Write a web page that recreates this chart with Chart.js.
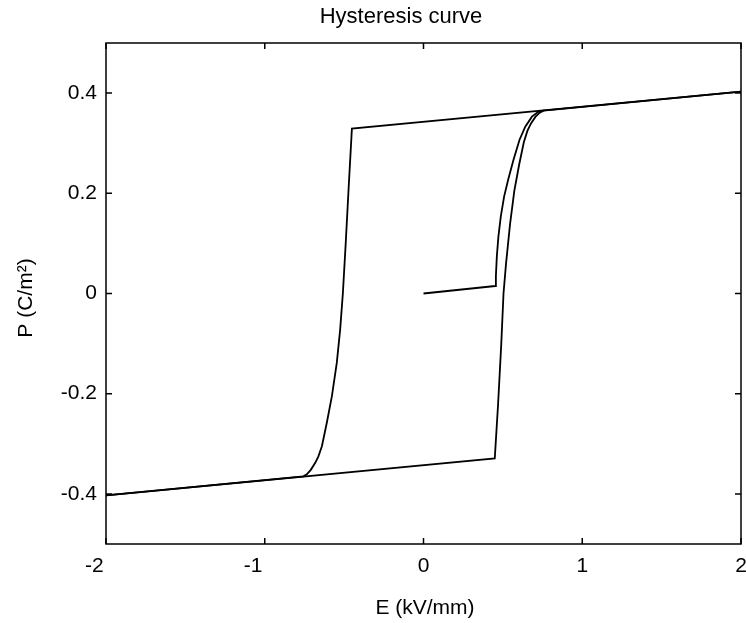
<!DOCTYPE html>
<html>
<head>
<meta charset="utf-8">
<title>Hysteresis curve</title>
<script src="https://cdn.jsdelivr.net/npm/chart.js@4.4.1/dist/chart.umd.min.js"></script>
<style>
  html, body { margin: 0; padding: 0; background: #fff; overflow: hidden; }
  #wrap { width: 746px; height: 623px; position: relative; }
</style>
</head>
<body>
<div id="wrap"><canvas id="grafico"></canvas></div>
<script>
// Dados (E em kV/mm, P em C/m²)
const virgemE = [0, 0.452, 0.456, 0.462, 0.472, 0.487, 0.508, 0.534, 0.567, 0.605, 0.641, 0.683, 0.725, 0.756];
const virgemP = [0, 0.015, 0.035, 0.074, 0.114, 0.154, 0.194, 0.228, 0.267, 0.307, 0.333, 0.353, 0.363, 0.365];

const descidaE = [2, -0.451, -0.470, -0.490, -0.508, -0.525, -0.546, -0.577, -0.609, -0.640, -0.662, -0.682, -0.710, -0.735, -0.756, -2];
const descidaP = [0.403, 0.329, 0.220, 0.100, 0.000, -0.072, -0.138, -0.205, -0.258, -0.305, -0.325, -0.338, -0.352, -0.361, -0.365, -0.403];

const subidaE = [-2, 0.449, 0.470, 0.490, 0.504, 0.520, 0.545, 0.572, 0.603, 0.632, 0.655, 0.678, 0.706, 0.732, 0.756, 2];
const subidaP = [-0.403, -0.329, -0.220, -0.100, 0.000, 0.060, 0.138, 0.205, 0.258, 0.302, 0.325, 0.340, 0.353, 0.361, 0.365, 0.403];

const ticksX = [-2, -1, 0, 1, 2];
const ticksY = [-0.4, -0.2, 0, 0.2, 0.4];

const titulo = 'Hysteresis curve';
const rotuloX = 'E (kV/mm)';
const rotuloY = 'P (C/m\u00B2)';

const fonte = '"Liberation Sans", Arial, Helvetica, sans-serif';

function pontos(xs, ys) {
  return xs.map((x, i) => ({ x: x, y: ys[i] }));
}

function serie(xs, ys) {
  return {
    data: pontos(xs, ys),
    showLine: true,
    borderColor: '#000',
    borderWidth: 1.8,
    pointRadius: 0,
    tension: 0,
    fill: false
  };
}

// moldura, marcas internas e textos
const molduraPlugin = {
  id: 'moldura',
  afterDraw(chart) {
    const ctx = chart.ctx;
    const a = chart.chartArea;
    const sx = chart.scales.x;
    const sy = chart.scales.y;
    const tam = 6;

    ctx.save();
    ctx.strokeStyle = '#000';
    ctx.lineWidth = 1.5;
    ctx.strokeRect(a.left, a.top, a.right - a.left, a.bottom - a.top);

    ctx.beginPath();
    ticksX.forEach(v => {
      const px = sx.getPixelForValue(v);
      ctx.moveTo(px, a.bottom); ctx.lineTo(px, a.bottom - tam);
      ctx.moveTo(px, a.top); ctx.lineTo(px, a.top + tam);
    });
    ticksY.forEach(v => {
      const py = sy.getPixelForValue(v);
      ctx.moveTo(a.left, py); ctx.lineTo(a.left + tam, py);
      ctx.moveTo(a.right, py); ctx.lineTo(a.right - tam, py);
    });
    ctx.stroke();

    ctx.fillStyle = '#000';
    ctx.textAlign = 'center';
    ctx.textBaseline = 'alphabetic';
    ctx.font = '22px ' + fonte;
    ctx.fillText(titulo, 401, 23);

    ctx.font = '21px ' + fonte;
    ctx.fillText(rotuloX, 425, 614);

    ctx.translate(32, 298);
    ctx.rotate(-Math.PI / 2);
    ctx.fillText(rotuloY, 0, 0);
    ctx.restore();
  }
};

const grafico = new Chart(document.getElementById('grafico'), {
  type: 'scatter',
  data: {
    datasets: [
      serie(virgemE, virgemP),
      serie(descidaE, descidaP),
      serie(subidaE, subidaP)
    ]
  },
  options: {
    responsive: true,
    maintainAspectRatio: false,
    animation: false,
    layout: { padding: { top: 43, right: 5, left: 0, bottom: 0 } },
    plugins: {
      legend: { display: false },
      tooltip: { enabled: false },
      title: { display: false }
    },
    scales: {
      x: {
        type: 'linear',
        min: -2,
        max: 2,
        grid: { display: false, drawTicks: false },
        border: { display: false },
        afterBuildTicks: s => { s.ticks = ticksX.map(v => ({ value: v })); },
        afterFit: s => { s.height = 79; s.paddingLeft = 0; s.paddingRight = 0; },
        ticks: {
          color: '#000',
          padding: 10,
          maxRotation: 0,
          font: { family: fonte, size: 21 },
          // rótulos negativos ficam um pouco à esquerda da marca, como na figura
          callback: v => v < 0 ? String(v) + '    ' : String(v)
        }
      },
      y: {
        type: 'linear',
        min: -0.5,
        max: 0.5,
        grid: { display: false, drawTicks: false },
        border: { display: false },
        afterBuildTicks: s => { s.ticks = ticksY.map(v => ({ value: v })); },
        afterFit: s => { s.width = 106; s.paddingTop = 0; s.paddingBottom = 0; },
        ticks: {
          color: '#000',
          padding: 9,
          font: { family: fonte, size: 21 },
          callback: v => v === 0 ? '0' : String(v)
        }
      }
    }
  },
  plugins: [molduraPlugin]
});
</script>
</body>
</html>
